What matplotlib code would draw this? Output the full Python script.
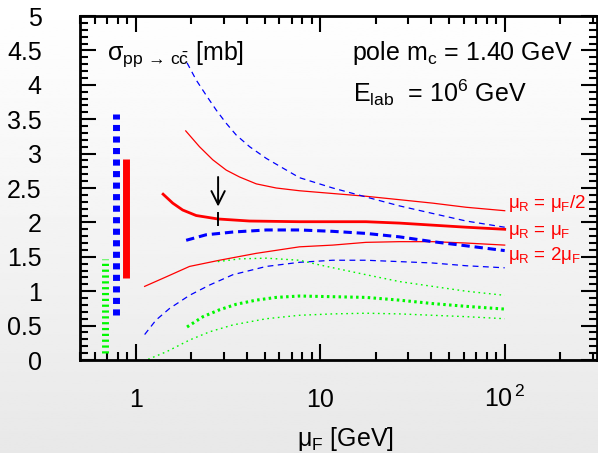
import numpy as np
import matplotlib
matplotlib.use('Agg')
import matplotlib.pyplot as plt
from matplotlib.ticker import FixedLocator, MultipleLocator, FuncFormatter, NullFormatter, LogLocator

plt.rcParams['font.family'] = ['Liberation Sans', 'DejaVu Sans']
plt.rcParams['mathtext.fontset'] = 'custom'
plt.rcParams['mathtext.rm'] = 'Liberation Sans'
plt.rcParams['mathtext.it'] = 'Liberation Sans'
plt.rcParams['mathtext.bf'] = 'Liberation Sans:bold'
plt.rcParams['lines.scale_dashes'] = False

# ---- data ----
red_half_x = [1.87, 2.22, 2.62, 3.10, 3.66, 4.51, 5.78, 7.73, 11.7, 17.7, 26.9, 40.7, 61.8, 100]
red_half_y = [3.33, 3.10, 2.91, 2.76, 2.66, 2.56, 2.50, 2.46, 2.42, 2.38, 2.33, 2.28, 2.22, 2.17]
red_one_x = [1.41, 1.59, 1.80, 2.13, 2.79, 4.14, 7.73, 17.7, 26.9, 40.7, 61.8, 100]
red_one_y = [2.41, 2.28, 2.18, 2.10, 2.05, 2.02, 2.01, 2.01, 1.99, 1.96, 1.93, 1.90]
red_two_x = [1.12, 1.47, 1.96, 2.85, 4.5, 7.73, 11.7, 17.7, 26.9, 40.7, 61.8, 100]
red_two_y = [1.07, 1.21, 1.36, 1.45, 1.55, 1.645, 1.67, 1.71, 1.72, 1.72, 1.70, 1.67]

blue_half_x = [1.90, 2.13, 2.41, 2.74, 3.10, 3.51, 4.15, 5.11, 6.28, 7.73, 11.7, 17.7, 26.9, 40.7, 61.8, 100]
blue_half_y = [4.32, 4.07, 3.85, 3.63, 3.44, 3.27, 3.10, 2.93, 2.79, 2.65, 2.50, 2.37, 2.24, 2.13, 2.02, 1.93]
blue_one_x = [1.88, 2.41, 3.37, 5.11, 7.73, 11.7, 17.7, 26.9, 40.7, 61.8, 100]
blue_one_y = [1.74, 1.82, 1.86, 1.89, 1.89, 1.87, 1.84, 1.79, 1.72, 1.66, 1.59]
blue_two_x = [1.12, 1.29, 1.53, 1.96, 2.52, 3.37, 5.11, 7.73, 11.7, 17.7, 26.9, 40.7, 61.8, 100]
blue_two_y = [0.37, 0.58, 0.75, 0.94, 1.09, 1.24, 1.36, 1.42, 1.45, 1.45, 1.43, 1.41, 1.37, 1.34]

green_half_x = [2.79, 3.66, 5.11, 7.73, 10.0, 13.3, 17.7, 26.9, 40.7, 61.8, 100]
green_half_y = [1.43, 1.47, 1.48, 1.45, 1.38, 1.31, 1.24, 1.14, 1.07, 1.00, 0.94]
green_one_x = [1.90, 2.32, 2.85, 3.51, 4.5, 5.78, 7.73, 11.7, 17.7, 26.9, 40.7, 61.8, 100]
green_one_y = [0.48, 0.63, 0.73, 0.81, 0.87, 0.91, 0.93, 0.92, 0.91, 0.87, 0.82, 0.78, 0.74]
green_two_x = [1.17, 1.47, 1.96, 2.52, 3.37, 5.11, 7.73, 11.7, 17.7, 26.9, 40.7, 61.8, 100]
green_two_y = [0.01, 0.12, 0.29, 0.41, 0.51, 0.60, 0.65, 0.67, 0.68, 0.67, 0.65, 0.63, 0.60]

# uncertainty bands at the left (x position, low, high)
band_x = [0.684, 0.785, 0.89]
band_lo = [0.10, 0.65, 1.19]
band_hi = [1.47, 3.57, 2.92]

arrow_x = 2.8

xticks = [1, 10, 100]
xticklabels = ['1', '10', r'$10^{\,2}$']

# ---- figure ----
fig = plt.figure(figsize=(5.98, 4.53), dpi=100)
bg = fig.add_axes([0, 0, 1, 1], zorder=-10)
bg.axis('off')
grad = np.linspace(1.0, 0.91, 256)[:, None]
bg.imshow(grad, aspect='auto', cmap='gray', vmin=0, vmax=1, extent=[0, 1, 0, 1])

ax = fig.add_axes([80/598, 1-360/453, 517/598, 344/453])
ax.set_facecolor('none')
ax.set_xscale('log')
ax.set_xlim(0.5, 10**2.5)
ax.set_ylim(0, 5)

red = '#ff0000'
blue = '#0000ff'
green = '#00f800'

ax.plot(red_half_x, red_half_y, color=red, lw=0.9)
ax.plot(red_one_x, red_one_y, color=red, lw=2.0)
ax.plot(red_two_x, red_two_y, color=red, lw=0.9)

l = ax.plot(blue_half_x, blue_half_y, color=blue, lw=0.9)[0]
l.set_dashes((4.2, 3.2))
l = ax.plot(blue_one_x, blue_one_y, color=blue, lw=2.2)[0]
l.set_dashes((6.0, 3.5))
l = ax.plot(blue_two_x, blue_two_y, color=blue, lw=0.9)[0]
l.set_dashes((4.2, 3.2))

l = ax.plot(green_half_x, green_half_y, color=green, lw=1.0)[0]
l.set_dashes((1.2, 2.6))
l = ax.plot(green_one_x, green_one_y, color=green, lw=2.2)[0]
l.set_dashes((1.8, 2.4))
l = ax.plot(green_two_x, green_two_y, color=green, lw=1.0)[0]
l.set_dashes((1.2, 2.6))

# bands
l = ax.plot([band_x[0]]*2, [band_lo[0], band_hi[0]], color=green, lw=5.0,
            solid_capstyle='butt', dash_capstyle='butt')[0]
l.set_dashes((1.6, 2.6))
l = ax.plot([band_x[1]]*2, [band_lo[1], band_hi[1]], color=blue, lw=5.0,
            solid_capstyle='butt', dash_capstyle='butt')[0]
l.set_dashes((4.4, 3.9))
ax.plot([band_x[2]]*2, [band_lo[2], band_hi[2]], color=red, lw=5.0,
        solid_capstyle='butt')

# arrow and marker
ax.annotate('', xy=(arrow_x, 2.23), xytext=(arrow_x, 2.66),
            arrowprops=dict(arrowstyle='->', lw=1.4, color='black',
                            mutation_scale=24, shrinkA=0, shrinkB=0))
ax.plot([arrow_x, arrow_x], [1.96, 2.14], color='black', lw=1.4)

# texts
ax.text(0.052, 0.872, r'$\sigma_{pp\,\rightarrow\,c\bar{c}}$ [mb]', transform=ax.transAxes,
        fontsize=18, va='baseline', ha='left')
ax.text(0.526, 0.872, r'pole m$_{\mathrm{c}}$ = 1.40 GeV', transform=ax.transAxes,
        fontsize=18, va='baseline', ha='left')
ax.text(0.528, 0.752, r'E$_{\mathrm{lab}}$  = 10$^{6}$ GeV', transform=ax.transAxes,
        fontsize=18, va='baseline', ha='left')

ax.text(104, 2.21, r'$\mu_R$ = $\mu_F$/2', color=red, fontsize=13.5, va='baseline', ha='left')
ax.text(104, 1.82, r'$\mu_R$ = $\mu_F$', color=red, fontsize=13.5, va='baseline', ha='left')
ax.text(104, 1.45, r'$\mu_R$ = 2$\mu_F$', color=red, fontsize=13.5, va='baseline', ha='left')

# axes styling
ax.xaxis.set_major_locator(FixedLocator(xticks))
ax.xaxis.set_major_formatter(FuncFormatter(lambda v, p: xticklabels[xticks.index(v)] if v in xticks else ''))
ax.xaxis.set_minor_locator(LogLocator(base=10, subs=np.arange(2, 10), numticks=20))
ax.xaxis.set_minor_formatter(NullFormatter())
ax.yaxis.set_major_locator(MultipleLocator(0.5))
ax.yaxis.set_minor_locator(MultipleLocator(0.1))
ax.yaxis.set_major_formatter(FuncFormatter(lambda v, p: f'{v:g}'))

ax.tick_params(which='both', direction='in', top=True, right=True, width=1.5, color='black')
ax.tick_params(which='major', length=11.5)
ax.tick_params(which='minor', length=6)
ax.tick_params(axis='y', which='major', labelsize=18, pad=27.5)
ax.tick_params(axis='x', which='major', labelsize=18, pad=34)
for s in ax.spines.values():
    s.set_linewidth(2)

fig.canvas.draw()
for t in ax.get_xticklabels():
    t.set_va('baseline')

ax.text(0.514, -0.25, r'$\mu_F$ [GeV]', transform=ax.transAxes, fontsize=18,
        ha='center', va='baseline')

fig.savefig('out.png', dpi=100)
